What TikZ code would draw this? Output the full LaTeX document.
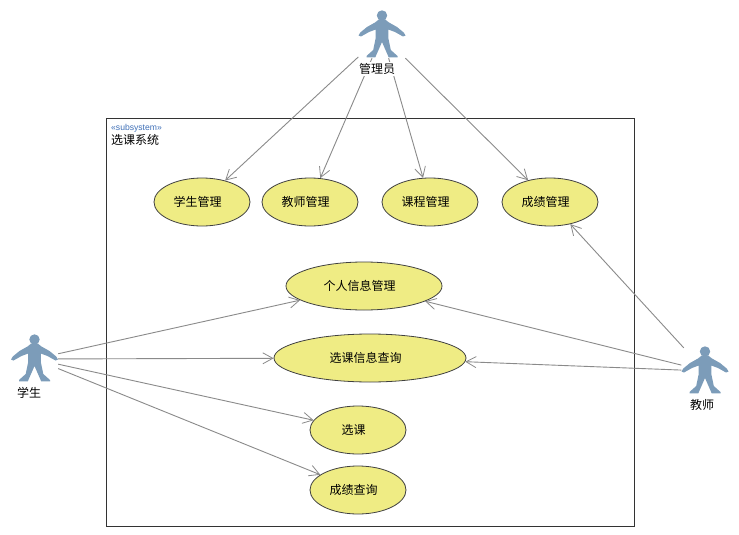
\documentclass[tikz,border=0pt]{standalone}
\usepackage{fontspec}
\setmainfont{Liberation Sans}
\newfontfamily\cjk{Noto Sans CJK SC}
\usepackage{xcolor}
\usetikzlibrary{arrows.meta,shapes.geometric}
\definecolor{ucfill}{HTML}{EFEC84}
\definecolor{figblue}{HTML}{7C9CB9}
\definecolor{flowgray}{HTML}{8A8A8A}
\definecolor{stereo}{HTML}{3F70B8}
\tikzset{
  usecase/.style={ellipse, draw=black!75, fill=ucfill, line width=0.8pt, inner sep=0pt, minimum width=96pt, minimum height=48pt, font=\cjk\fontsize{12}{14}\selectfont, execute at end node={\hspace*{9pt}}},
  actor/.style={rectangle, minimum width=47pt, minimum height=46pt, inner sep=0pt},
  actorlab/.style={fill=white, inner sep=1pt, font=\cjk\fontsize{12}{14}\selectfont},
  flow/.style={draw=flowgray, line width=0.9pt, -{Straight Barb[length=10pt,width=11pt,line width=0.8pt]}},
  figure/.pic={
    \fill[figblue] (0,-19.5) circle (5.2);
    \fill[figblue] (-3.2,-15.5)--(-7,-12.5)--(-15,-8)--(-21.7,-2.5)--(-23.5,0.5)--(-21,1.5)--(-13,-3)--(-6.3,-5.5)--(-6.3,3)--(-8.8,15)--(-15.5,21)--(-15.5,22.3)--(-6.7,22.3)--(0,7)--(6.7,22.3)--(15.5,22.3)--(15.5,21)--(8.8,15)--(6.3,3)--(6.3,-5.5)--(13,-3)--(21,1.5)--(23.5,0.5)--(21.7,-2.5)--(15,-8)--(7,-12.5)--(3.2,-15.5)--cycle;
  },
}
\begin{document}
\begin{tikzpicture}[x=1pt,y=-1pt]
  \useasboundingbox (0,0) rectangle (739,535);
  \fill[white] (0,0) rectangle (739,535);
  % subsystem frame
  \draw[black!80, line width=0.9pt] (106.5,118.5) rectangle (634,526);
  \node[anchor=west, inner sep=0pt, text=stereo, font=\fontsize{8.6}{10}\selectfont] (stereotype) at (111,128) {«subsystem»};
  \node[anchor=west, inner sep=0pt, font=\cjk\fontsize{12}{14}\selectfont] (subsys) at (111,140) {选课系统};
  % actors
  \node[actor] (admin) at (382,35) {};
  \node[actor] (student) at (34.5,359) {};
  \node[actor] (teacher) at (705,371) {};
  \foreach \X in {admin,student,teacher}
    \pic at (\X) {figure};
  % use cases
  \node[usecase] (ucstudent) at (202,202) {学生管理};
  \node[usecase] (ucteacher) at (310,202) {教师管理};
  \node[usecase] (uccourse) at (430,202) {课程管理};
  \node[usecase] (ucgrade) at (550,202) {成绩管理};
  \node[usecase, minimum width=156pt] (ucinfo) at (364,286) {个人信息管理};
  \node[usecase, minimum width=192pt] (ucquery) at (370,358) {选课信息查询};
  \node[usecase] (ucselect) at (358,430) {选课};
  \node[usecase] (ucscore) at (358,490) {成绩查询};
  % connectors
  \foreach \U in {ucstudent,ucteacher,uccourse,ucgrade}
    \draw[flow] (admin) -- (\U);
  \foreach \U in {ucinfo,ucquery,ucselect,ucscore}
    \draw[flow] (student) -- (\U);
  \foreach \U in {ucgrade,ucinfo,ucquery}
    \draw[flow] (teacher) -- (\U);
  % actor names
  \node[actorlab] (adminlab) at (377,69) {管理员};
  \node[actorlab] (studentlab) at (29,393) {学生};
  \node[actorlab] (teacherlab) at (702,405) {教师};
\end{tikzpicture}
\end{document}
